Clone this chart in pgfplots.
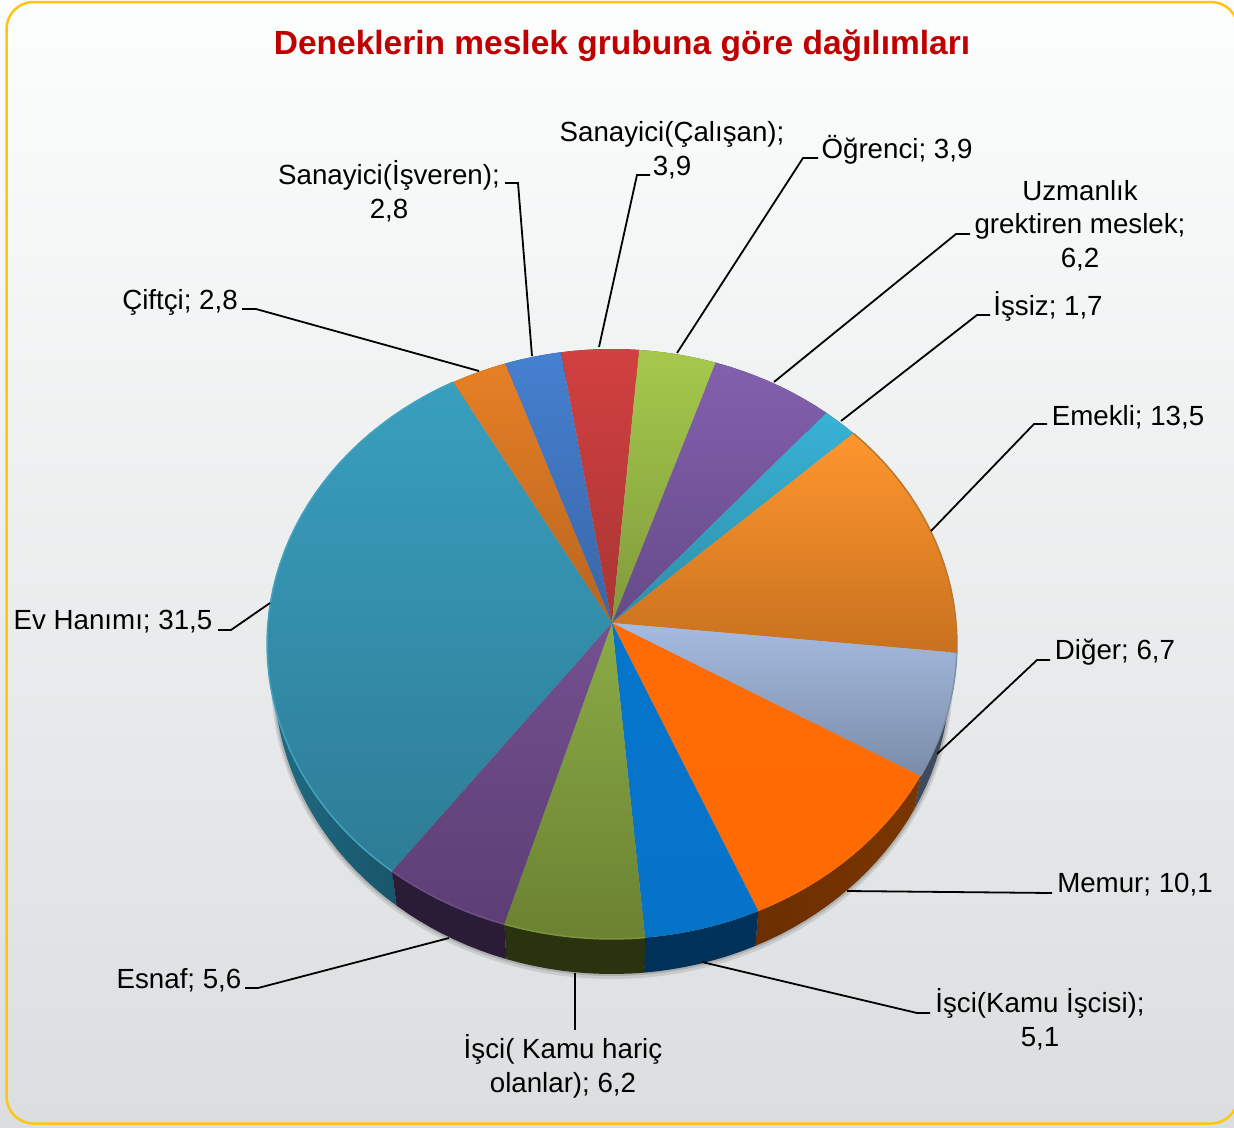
\documentclass[border=0pt]{standalone}
\usepackage{pgfplots}
\usepackage{pgfplotstable}
\usepackage{fontspec}
\setmainfont{Liberation Sans}
\pgfplotsset{compat=1.18}
% value = share in percent; rimstart / rimend = where the slice sits on the drawn rim, in degrees
\pgfplotstableread{
value rimstart rimend
31.5  230.4  117.4
2.8   117.4  108.0
2.8   108.0   98.5
3.9    98.5   85.5
3.9    85.5   72.5
6.2    72.5   51.6
1.7    51.6   45.6
13.5   45.6   -1.7
6.7    -1.7  -26.6
10.1  -26.6  -64.9
5.1   -64.9  -84.5
6.2   -84.5 -108.2
5.6  -108.2 -129.6
}\slices
\definecolor{ft0}{HTML}{389FBE}\definecolor{fb0}{HTML}{2E7C96}\definecolor{sl0}{HTML}{1F6C84}\definecolor{sd0}{HTML}{154B5E}
\definecolor{ft1}{HTML}{E68026}\definecolor{fb1}{HTML}{B8641E}\definecolor{sl1}{HTML}{7A4010}\definecolor{sd1}{HTML}{7A4010}
\definecolor{ft2}{HTML}{4580D0}\definecolor{fb2}{HTML}{3A66A6}\definecolor{sl2}{HTML}{203A60}\definecolor{sd2}{HTML}{203A60}
\definecolor{ft3}{HTML}{D24040}\definecolor{fb3}{HTML}{A83534}\definecolor{sl3}{HTML}{601A1A}\definecolor{sd3}{HTML}{601A1A}
\definecolor{ft4}{HTML}{A6C94C}\definecolor{fb4}{HTML}{7F9A3C}\definecolor{sl4}{HTML}{4A5A20}\definecolor{sd4}{HTML}{4A5A20}
\definecolor{ft5}{HTML}{8360AE}\definecolor{fb5}{HTML}{654A88}\definecolor{sl5}{HTML}{3A2A50}\definecolor{sd5}{HTML}{3A2A50}
\definecolor{ft6}{HTML}{38B2D6}\definecolor{fb6}{HTML}{2E8FA8}\definecolor{sl6}{HTML}{1A5A70}\definecolor{sd6}{HTML}{1A5A70}
\definecolor{ft7}{HTML}{FF962E}\definecolor{fb7}{HTML}{C8711F}\definecolor{sl7}{HTML}{7A4010}\definecolor{sd7}{HTML}{7A4010}
\definecolor{ft8}{HTML}{A6BBE0}\definecolor{fb8}{HTML}{7A8CA8}\definecolor{sl8}{HTML}{3D4A60}\definecolor{sd8}{HTML}{3D4A60}
\definecolor{ft9}{HTML}{FF6C05}\definecolor{fb9}{HTML}{FF6A02}\definecolor{sl9}{HTML}{6C2E00}\definecolor{sd9}{HTML}{7A3600}
\definecolor{ft10}{HTML}{0575CC}\definecolor{fb10}{HTML}{0573C8}\definecolor{sl10}{HTML}{003158}\definecolor{sd10}{HTML}{003158}
\definecolor{ft11}{HTML}{8AAB45}\definecolor{fb11}{HTML}{6B8232}\definecolor{sl11}{HTML}{2A330F}\definecolor{sd11}{HTML}{2A330F}
\definecolor{ft12}{HTML}{74508F}\definecolor{fb12}{HTML}{5C3E74}\definecolor{sl12}{HTML}{2A1B36}\definecolor{sd12}{HTML}{2A1B36}
\definecolor{rm0}{HTML}{45A2BE}\definecolor{rm7}{HTML}{B9772F}\definecolor{rm8}{HTML}{7F90AA}
\definecolor{rm11}{HTML}{7A953B}\definecolor{rm12}{HTML}{6E5089}
\definecolor{framec}{HTML}{FFC414}\definecolor{titlec}{HTML}{C00000}
\definecolor{bgtop}{HTML}{FCFDFD}\definecolor{bgbot}{HTML}{DBDEDF}
\tikzset{lab/.style={font=\fontsize{27.7}{33.7}\selectfont, text=black, align=center, inner sep=0pt}}
% append points of an elliptic arc to \plist: t0, t1, cx, cy, rx, ry
\newcommand\arcpts[6]{%
  \pgfmathtruncatemacro\nn{max(2,ceil(abs(#2-#1)/2.5))}%
  \foreach \k in {0,...,\nn}{%
    \pgfmathsetmacro\ang{#1+(#2-#1)*\k/\nn}%
    \pgfmathsetmacro\ptx{#3+#5*cos(\ang)}%
    \pgfmathsetmacro\pty{#4-#6*sin(\ang)}%
    \xdef\plist{\plist (\ptx,\pty)}%
  }}
\newcommand\getrim[1]{%
  \pgfplotstablegetelem{#1}{rimstart}\of\slices\edef\rs{\pgfplotsretval}%
  \pgfplotstablegetelem{#1}{rimend}\of\slices\edef\re{\pgfplotsretval}}
\begin{document}
\begin{tikzpicture}
\path[use as bounding box] (0,0) rectangle (1234pt,1127pt);
\begin{axis}[
  at={(0,0)}, anchor=south west,
  scale only axis, width=1234pt, height=1127pt,
  xmin=0, xmax=1234, ymin=0, ymax=1127, y dir=reverse,
  hide axis, clip=true,
]
% panel
\path[top color=bgtop, bottom color=bgbot] (axis cs:0,0) rectangle (axis cs:1234,1127);
\path[draw=framec, line width=2.5pt, rounded corners=27pt]
  (axis cs:6.5,2) rectangle (axis cs:1238,1123.5);
% soft shadow
\fill[black, opacity=0.10] (axis cs:612,679) ellipse [x radius=341pt, y radius=300pt];
\fill[black, opacity=0.14] (axis cs:612,677.5) ellipse [x radius=339.5pt, y radius=298.5pt];
% side walls
\pgfplotsinvokeforeach{0,...,12}{%
  \getrim{#1}%
  \gdef\plist{}%
  \arcpts{\rs}{\re}{612}{644}{345}{295}%
  \arcpts{\re}{\rs}{612}{676}{338}{298}%
  \edef\tmp{\noexpand\addplot[left color=sl#1, right color=sd#1, draw=none, mark=none, forget plot] coordinates {\plist} -- cycle;}%
  \tmp
}
% top faces
\pgfplotsinvokeforeach{0,...,12}{%
  \getrim{#1}%
  \gdef\plist{(612,623)}%
  \arcpts{\rs}{\re}{612}{644}{345}{295}%
  \edef\tmp{\noexpand\addplot[top color=ft#1, bottom color=fb#1, draw=none, mark=none, forget plot] coordinates {\plist (612,623)};}%
  \tmp
}
% rim highlights
\pgfplotsinvokeforeach{0,7,8,11,12}{%
  \getrim{#1}%
  \gdef\plist{}%
  \arcpts{\rs}{\re}{612}{644}{345}{295}%
  \edef\tmp{\noexpand\addplot[draw=rm#1, line width=1.5pt, mark=none, forget plot] coordinates {\plist};}%
  \tmp
}
% leader lines
\addplot[black, line width=1.8pt, mark=none] coordinates {(242,309) (256,309) (479,371)};
\addplot[black, line width=1.8pt, mark=none] coordinates {(505,183) (518,183) (532,356)};
\addplot[black, line width=1.8pt, mark=none] coordinates {(650,175) (637,175) (599,347)};
\addplot[black, line width=1.8pt, mark=none] coordinates {(818,158) (803,158) (677,353)};
\addplot[black, line width=1.8pt, mark=none] coordinates {(970,234) (956,234) (774,382)};
\addplot[black, line width=1.8pt, mark=none] coordinates {(990,315) (977,315) (841,421)};
\addplot[black, line width=1.8pt, mark=none] coordinates {(1047,424) (1034,424) (931,531)};
\addplot[black, line width=1.8pt, mark=none] coordinates {(1050,660) (1037,660) (937,754)};
\addplot[black, line width=1.8pt, mark=none] coordinates {(1052,893) (847,891)};
\addplot[black, line width=1.8pt, mark=none] coordinates {(930,1013) (917,1013) (702,962)};
\addplot[black, line width=1.8pt, mark=none] coordinates {(575,973) (575,1030)};
\addplot[black, line width=1.8pt, mark=none] coordinates {(245,988) (258,988) (449,938)};
\addplot[black, line width=1.8pt, mark=none] coordinates {(218,630) (231,630) (270,603)};
% title and labels
\node[font=\fontsize{33.5}{40}\selectfont\bfseries, text=titlec] at (axis cs:622,46) {Deneklerin meslek grubuna göre dağılımları};
\node[lab] at (axis cs:672,150.5) {Sanayici(Çalışan);\\3,9};
\node[lab] at (axis cs:897,149.5) {Öğrenci; 3,9};
\node[lab] at (axis cs:1080,225.5) {Uzmanlık\\grektiren meslek;\\6,2};
\node[lab] at (axis cs:1048,306) {İşsiz; 1,7};
\node[lab] at (axis cs:1128,417.5) {Emekli; 13,5};
\node[lab] at (axis cs:1115,652.5) {Diğer; 6,7};
\node[lab] at (axis cs:1135,885) {Memur; 10,1};
\node[lab] at (axis cs:1040,1019.5) {İşci(Kamu İşcisi);\\5,1};
\node[lab] at (axis cs:563,1066) {İşci( Kamu hariç\\olanlar); 6,2};
\node[lab] at (axis cs:179,980) {Esnaf; 5,6};
\node[lab] at (axis cs:113,622) {Ev Hanımı; 31,5};
\node[lab] at (axis cs:180,302) {Çiftçi; 2,8};
\node[lab] at (axis cs:389,191) {Sanayici(İşveren);\\2,8};
\end{axis}
\end{tikzpicture}
\end{document}
